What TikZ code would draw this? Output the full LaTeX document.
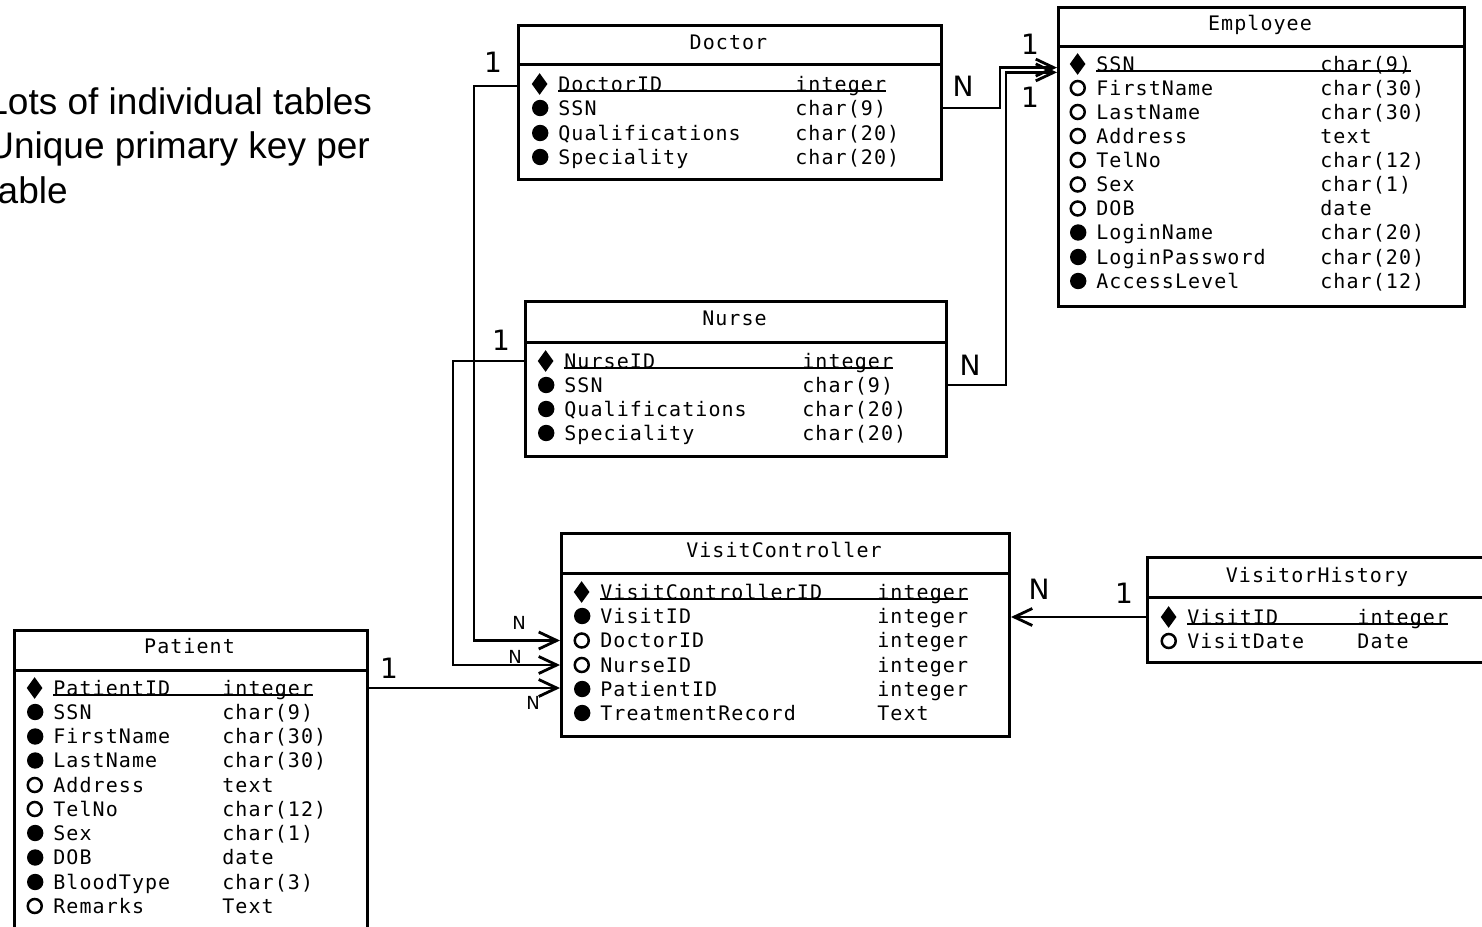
\documentclass[tikz,border=0pt]{standalone}
\usepackage{fontspec}
\setmainfont{Liberation Sans}
\newfontfamily\ermono[LetterSpace=5.3]{DejaVu Sans Mono}
\newfontfamily\erlabel{DejaVu Sans}
\usetikzlibrary{arrows.meta,shapes.geometric}
\newcommand{\erfont}{\ermono\fontsize{10pt}{12pt}\selectfont}

\begin{document}
\begin{tikzpicture}[x=0.5pt, y=-0.5pt]
    \tikzstyle{tbl}=[draw, line width=1.5pt, inner sep=0pt, anchor=north west, rectangle]
    \tikzstyle{sep}=[line width=1.5pt]
    \tikzstyle{ttl}=[font=\erfont, anchor=base, inner sep=0pt]
    \tikzstyle{fld}=[font=\erfont, anchor=base west, inner sep=0pt, text height=7pt, text depth=0pt]
    \tikzstyle{pk}=[fld, label={[diamond, fill=black, inner sep=0pt, minimum width=8pt, minimum height=11pt, label distance=5pt]left:{}}]
    \tikzstyle{req}=[fld, label={[circle, fill=black, inner sep=0pt, minimum size=8.2pt, label distance=4.6pt]left:{}}]
    \tikzstyle{opt}=[fld, label={[circle, draw=black, line width=1.25pt, inner sep=0pt, minimum size=7pt, label distance=5pt]left:{}}]
    \tikzstyle{uline}=[line width=1.3pt]
    \tikzstyle{link}=[line width=1.4pt, -{Straight Barb[length=9pt, width=8.5pt]}]
    \tikzstyle{card}=[font=\erlabel\fontsize{14pt}{16pt}\selectfont, inner sep=0pt]
    \tikzstyle{cardsm}=[font=\erlabel\fontsize{9pt}{11pt}\selectfont, inner sep=0pt]
    \tikzstyle{slide}=[font=\fontsize{18.5pt}{22pt}\selectfont, anchor=base west, inner sep=0pt]
    \useasboundingbox (0,0) rectangle (1482,926);
    \clip (0,0) rectangle (1482,926);
    %slide text
    \node[slide] (slide1) at (-13,114) {Lots of individual tables};
    \node[slide] (slide2) at (-13,158.5) {Unique primary key per};
    \node[slide] (slide3) at (-13,203) {table};
    %Doctor
    \begin{scope}[shift={(517,24)}]
        \node[tbl, minimum width=211.5pt, minimum height=77pt] (doctor) at (0,0) {};
        \draw[sep] (0,40) -- (423,40);
        \node[ttl] (doc-title) at (211.5,25) {Doctor};
        \node[pk] (doc-id) at (41,67) {DoctorID};
        \node[fld] (doc-id-t) at (278,67) {integer};
        \node[req] (doc-ssn) at (41,91) {SSN};
        \node[fld] (doc-ssn-t) at (278,91) {char(9)};
        \node[req] (doc-qual) at (41,116) {Qualifications};
        \node[fld] (doc-qual-t) at (278,116) {char(20)};
        \node[req] (doc-spec) at (41,140) {Speciality};
        \node[fld] (doc-spec-t) at (278,140) {char(20)};
        \draw[uline] (doc-id.base west) -- (doc-id-t.base east);
    \end{scope}
    %Employee
    \begin{scope}[shift={(1057,6)}]
        \node[tbl, minimum width=203pt, minimum height=149.5pt] (employee) at (0,0) {};
        \draw[sep] (0,40) -- (406,40);
        \node[ttl] (emp-title) at (203,24) {Employee};
        \node[pk] (emp-ssn) at (39,65) {SSN};
        \node[fld] (emp-ssn-t) at (263,65) {char(9)};
        \node[opt] (emp-first) at (39,89) {FirstName};
        \node[fld] (emp-first-t) at (263,89) {char(30)};
        \node[opt] (emp-last) at (39,113) {LastName};
        \node[fld] (emp-last-t) at (263,113) {char(30)};
        \node[opt] (emp-addr) at (39,137) {Address};
        \node[fld] (emp-addr-t) at (263,137) {text};
        \node[opt] (emp-tel) at (39,161) {TelNo};
        \node[fld] (emp-tel-t) at (263,161) {char(12)};
        \node[opt] (emp-sex) at (39,185.5) {Sex};
        \node[fld] (emp-sex-t) at (263,185.5) {char(1)};
        \node[opt] (emp-dob) at (39,209.5) {DOB};
        \node[fld] (emp-dob-t) at (263,209.5) {date};
        \node[req] (emp-login) at (39,233.5) {LoginName};
        \node[fld] (emp-login-t) at (263,233.5) {char(20)};
        \node[req] (emp-pass) at (39,258) {LoginPassword};
        \node[fld] (emp-pass-t) at (263,258) {char(20)};
        \node[req] (emp-level) at (39,282) {AccessLevel};
        \node[fld] (emp-level-t) at (263,282) {char(12)};
        \draw[uline] (emp-ssn.base west) -- (emp-ssn-t.base east);
    \end{scope}
    %Nurse
    \begin{scope}[shift={(524,300)}]
        \node[tbl, minimum width=210.5pt, minimum height=77.5pt] (nurse) at (0,0) {};
        \draw[sep] (0,42) -- (421,42);
        \node[ttl] (nur-title) at (210.5,25) {Nurse};
        \node[pk] (nur-id) at (40,68) {NurseID};
        \node[fld] (nur-id-t) at (278,68) {integer};
        \node[req] (nur-ssn) at (40,92) {SSN};
        \node[fld] (nur-ssn-t) at (278,92) {char(9)};
        \node[req] (nur-qual) at (40,116) {Qualifications};
        \node[fld] (nur-qual-t) at (278,116) {char(20)};
        \node[req] (nur-spec) at (40,140) {Speciality};
        \node[fld] (nur-spec-t) at (278,140) {char(20)};
        \draw[uline] (nur-id.base west) -- (nur-id-t.base east);
    \end{scope}
    %VisitController
    \begin{scope}[shift={(560,532)}]
        \node[tbl, minimum width=224pt, minimum height=101.5pt] (vc) at (0,0) {};
        \draw[sep] (0,41) -- (448,41);
        \node[ttl] (vc-title) at (224,25) {VisitController};
        \node[pk] (vc-id) at (40,67) {VisitControllerID};
        \node[fld] (vc-id-t) at (317,67) {integer};
        \node[req] (vc-visit) at (40,91) {VisitID};
        \node[fld] (vc-visit-t) at (317,91) {integer};
        \node[opt] (vc-doc) at (40,115.5) {DoctorID};
        \node[fld] (vc-doc-t) at (317,115.5) {integer};
        \node[opt] (vc-nur) at (40,140) {NurseID};
        \node[fld] (vc-nur-t) at (317,140) {integer};
        \node[req] (vc-pat) at (40,164) {PatientID};
        \node[fld] (vc-pat-t) at (317,164) {integer};
        \node[req] (vc-treat) at (40,188) {TreatmentRecord};
        \node[fld] (vc-treat-t) at (317,188) {Text};
        \draw[uline] (vc-id.base west) -- (vc-id-t.base east);
    \end{scope}
    %VisitorHistory
    \begin{scope}[shift={(1146,556)}]
        \node[tbl, minimum width=172pt, minimum height=52.5pt] (vh) at (0,0) {};
        \draw[sep] (0,41) -- (344,41);
        \node[ttl] (vh-title) at (171,26) {VisitorHistory};
        \node[pk] (vh-id) at (41,68) {VisitID};
        \node[fld] (vh-id-t) at (211,68) {integer};
        \node[opt] (vh-date) at (41,92) {VisitDate};
        \node[fld] (vh-date-t) at (211,92) {Date};
        \draw[uline] (vh-id.base west) -- (vh-id-t.base east);
    \end{scope}
    %Patient
    \begin{scope}[shift={(13,629)}]
        \node[tbl, minimum width=176.5pt, minimum height=155pt] (patient) at (0,0) {};
        \draw[sep] (0,41) -- (353,41);
        \node[ttl] (pat-title) at (176.5,24) {Patient};
        \node[pk] (pat-id) at (40,66) {PatientID};
        \node[fld] (pat-id-t) at (209,66) {integer};
        \node[req] (pat-ssn) at (40,90) {SSN};
        \node[fld] (pat-ssn-t) at (209,90) {char(9)};
        \node[req] (pat-first) at (40,114.5) {FirstName};
        \node[fld] (pat-first-t) at (209,114.5) {char(30)};
        \node[req] (pat-last) at (40,138.5) {LastName};
        \node[fld] (pat-last-t) at (209,138.5) {char(30)};
        \node[opt] (pat-addr) at (40,163) {Address};
        \node[fld] (pat-addr-t) at (209,163) {text};
        \node[opt] (pat-tel) at (40,187) {TelNo};
        \node[fld] (pat-tel-t) at (209,187) {char(12)};
        \node[req] (pat-sex) at (40,211) {Sex};
        \node[fld] (pat-sex-t) at (209,211) {char(1)};
        \node[req] (pat-dob) at (40,235.5) {DOB};
        \node[fld] (pat-dob-t) at (209,235.5) {date};
        \node[req] (pat-blood) at (40,260) {BloodType};
        \node[fld] (pat-blood-t) at (209,260) {char(3)};
        \node[opt] (pat-rem) at (40,284) {Remarks};
        \node[fld] (pat-rem-t) at (209,284) {Text};
        \draw[uline] (pat-id.base west) -- (pat-id-t.base east);
    \end{scope}
    %connectors
    \draw[link] ([yshift=-1pt]doctor.west |- doc-id) -- ++(-43,0) |- (vc.west |- vc-doc);
    \draw[link] (nurse.west |- nur-id) -- ++(-71,0) |- (vc.west |- vc-nur);
    \draw[link] (patient.east |- pat-id) -- (vc.west |- pat-id);
    \draw[link] (vh.west |- vh-id) -- (vc.east |- vh-id);
    \draw[link] (doctor.east |- doc-ssn) -- ++(57,0) |- ([yshift=-1.8pt]employee.west |- emp-ssn);
    \draw[link] (nurse.east |- nur-ssn) -- ++(58,0) |- ([yshift=-4.2pt]employee.west |- emp-ssn);
    %cardinalities
    \node[card] (c-doc-1) at (493,62) {1};
    \node[cardsm] (c-doc-n) at (519,623) {N};
    \node[card] (c-nur-1) at (501,340) {1};
    \node[cardsm] (c-nur-n) at (515,657) {N};
    \node[card] (c-pat-1) at (389,668) {1};
    \node[cardsm] (c-pat-n) at (533,703) {N};
    \node[card] (c-vh-1) at (1124,593) {1};
    \node[card] (c-vh-n) at (1039,589) {N};
    \node[card] (c-de-n) at (963,86) {N};
    \node[card] (c-de-1) at (1030,44) {1};
    \node[card] (c-ne-n) at (970,365) {N};
    \node[card] (c-ne-1) at (1030,97) {1};
\end{tikzpicture}
\end{document}
